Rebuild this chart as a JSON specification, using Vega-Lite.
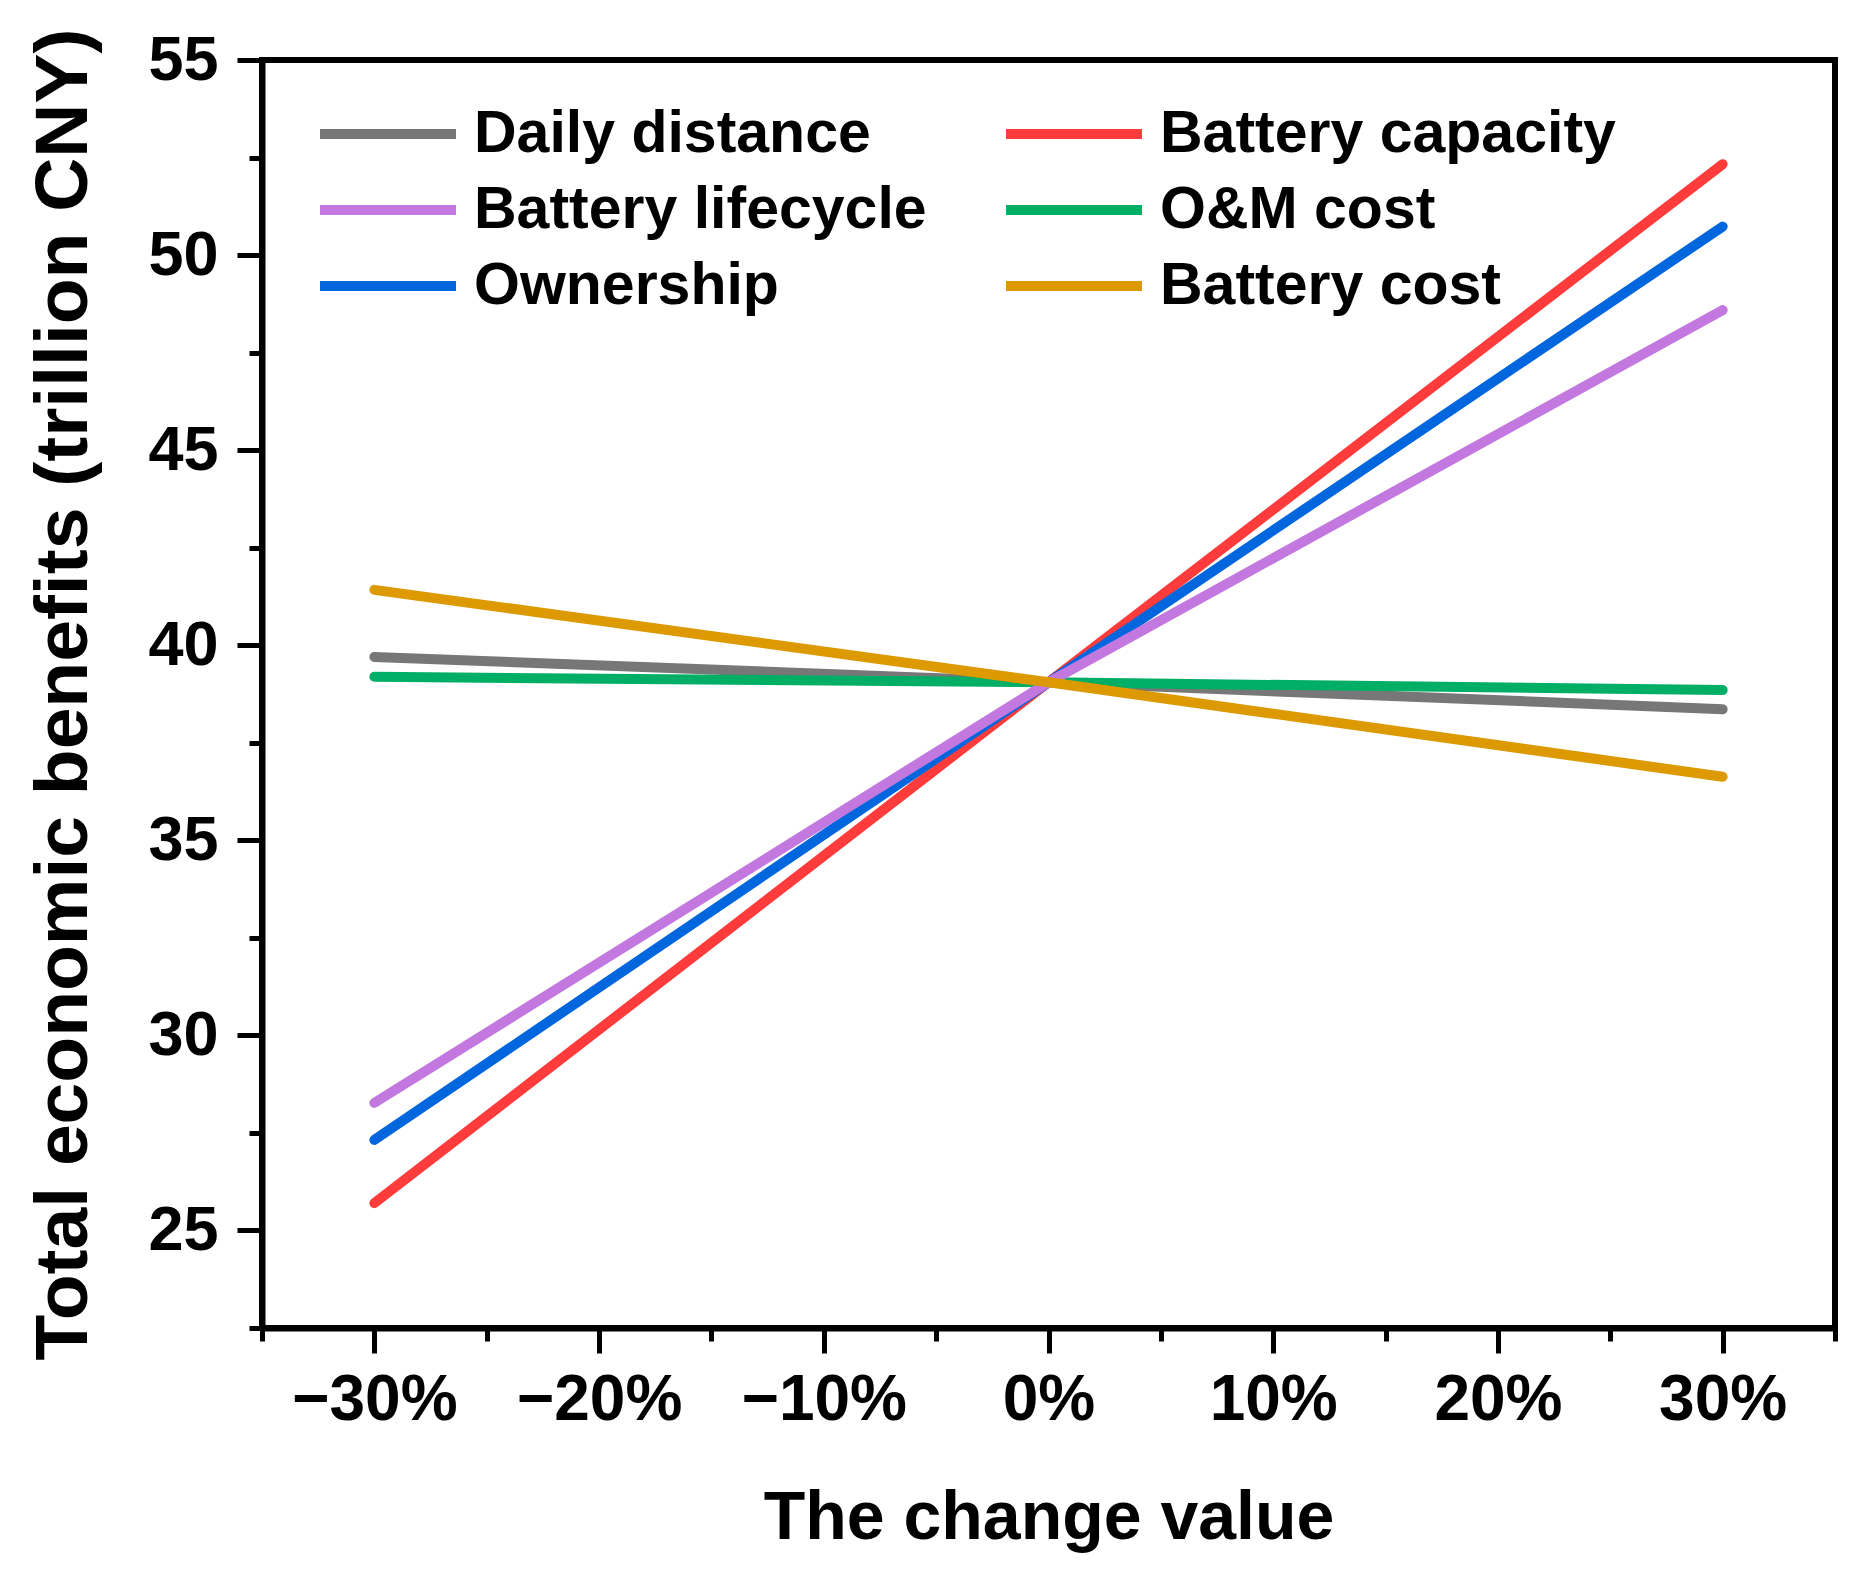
{
  "$schema": "https://vega.github.io/schema/vega-lite/v6.json",
  "autosize": {"type": "none"},
  "padding": {"left": 262, "top": 60, "right": 27, "bottom": 245},
  "width": 1573,
  "height": 1268,
  "data": {
    "values": [
      {"change": -0.3, "value": 39.70, "factor": "Daily distance"},
      {"change": 0.0, "value": 39.05, "factor": "Daily distance"},
      {"change": 0.3, "value": 38.36, "factor": "Daily distance"},
      {"change": -0.3, "value": 39.19, "factor": "O&M cost"},
      {"change": 0.0, "value": 39.05, "factor": "O&M cost"},
      {"change": 0.3, "value": 38.85, "factor": "O&M cost"},
      {"change": -0.3, "value": 25.70, "factor": "Battery capacity"},
      {"change": 0.0, "value": 39.05, "factor": "Battery capacity"},
      {"change": 0.3, "value": 52.33, "factor": "Battery capacity"},
      {"change": -0.3, "value": 27.32, "factor": "Ownership"},
      {"change": 0.0, "value": 39.05, "factor": "Ownership"},
      {"change": 0.3, "value": 50.73, "factor": "Ownership"},
      {"change": -0.3, "value": 28.27, "factor": "Battery lifecycle"},
      {"change": 0.0, "value": 39.05, "factor": "Battery lifecycle"},
      {"change": 0.3, "value": 48.59, "factor": "Battery lifecycle"},
      {"change": -0.3, "value": 41.42, "factor": "Battery cost"},
      {"change": 0.0, "value": 39.05, "factor": "Battery cost"},
      {"change": 0.3, "value": 36.63, "factor": "Battery cost"}
    ]
  },
  "mark": {"type": "line", "strokeWidth": 10, "strokeCap": "round"},
  "encoding": {
    "x": {
      "field": "change",
      "type": "quantitative",
      "scale": {"domain": [-0.35, 0.35], "nice": false, "zero": false},
      "axis": {
        "title": "The change value",
        "values": [-0.35, -0.3, -0.25, -0.2, -0.15, -0.1, -0.05, 0, 0.05, 0.1, 0.15, 0.2, 0.25, 0.3, 0.35],
        "format": ".0%",
        "labelExpr": "abs(round(datum.value * 100)) % 10 == 0 ? datum.label : ''",
        "tickSize": {"condition": {"test": "abs(round(datum.value * 100)) % 10 == 0", "value": 25}, "value": 13},
        "labelPadding": 15,
        "titlePadding": 52,
        "labelFontSize": 64,
        "titleFontSize": 68
      }
    },
    "y": {
      "field": "value",
      "type": "quantitative",
      "scale": {"domain": [22.5, 55], "nice": false, "zero": false},
      "axis": {
        "title": "Total economic benefits (trillion CNY)",
        "values": [22.5, 25, 27.5, 30, 32.5, 35, 37.5, 40, 42.5, 45, 47.5, 50, 52.5, 55],
        "labelExpr": "datum.value % 5 == 0 ? datum.label : ''",
        "tickSize": {"condition": {"test": "datum.value % 5 == 0", "value": 25}, "value": 13},
        "labelPadding": 19,
        "titlePadding": 45,
        "labelFontSize": 63,
        "titleFontSize": 75
      }
    },
    "color": {
      "field": "factor",
      "type": "nominal",
      "scale": {
        "domain": ["Daily distance", "Battery lifecycle", "Ownership", "Battery capacity", "O&M cost", "Battery cost"],
        "range": ["#777777", "#c378e0", "#0066dd", "#ff3b3b", "#00ae66", "#dd9900"]
      },
      "legend": {
        "title": null,
        "orient": "none",
        "legendX": 92,
        "legendY": 40,
        "columns": 2,
        "columnPadding": 58,
        "rowPadding": 12,
        "padding": 0,
        "symbolType": "M-2.345,0H2.345",
        "symbolSize": 3364,
        "symbolStrokeWidth": 10,
        "labelOffset": 52,
        "labelFontSize": 59,
        "labelFont": "Liberation Sans",
        "labelFontWeight": "bold",
        "labelColor": "black",
        "labelLimit": 0
      }
    }
  },
  "config": {
    "font": "Liberation Sans",
    "view": {"stroke": "black", "strokeWidth": 6},
    "axis": {
      "grid": false,
      "domainColor": "black",
      "domainWidth": 6,
      "tickColor": "black",
      "tickWidth": 5,
      "labelColor": "black",
      "titleColor": "black",
      "labelFont": "Liberation Sans",
      "titleFont": "Liberation Sans",
      "labelFontWeight": "bold",
      "titleFontWeight": "bold"
    }
  }
}
